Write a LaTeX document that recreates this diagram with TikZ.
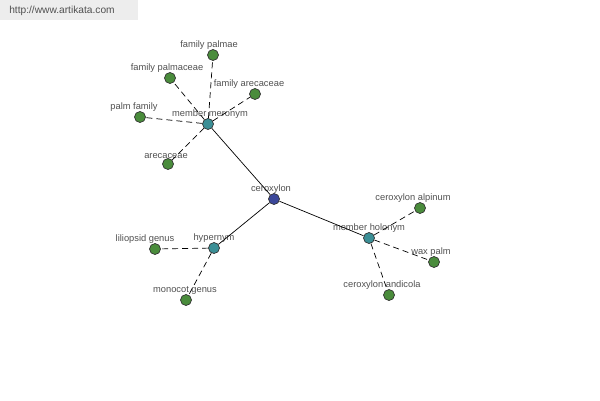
\documentclass[tikz,border=0pt]{standalone}
\usepackage{fontspec}
\setmainfont{Liberation Sans}
\usepackage{tikz}
\usetikzlibrary{positioning}
\definecolor{leafgreen}{HTML}{4A8C3C}
\definecolor{hubteal}{HTML}{3B8F96}
\definecolor{rootblue}{HTML}{3B479A}
\definecolor{txtgray}{HTML}{505050}
\tikzstyle{word} = [circle, draw=black!80, line width=0.4pt, minimum size=2.2mm, inner sep=0pt]
\tikzstyle{leaf} = [word, fill=leafgreen]
\tikzstyle{hub} = [word, fill=hubteal]
\tikzstyle{root} = [word, fill=rootblue]
\tikzstyle{lbl} = [text=txtgray, font=\fontsize{5.3}{6}\selectfont, inner sep=1pt, label distance=-0.5mm]
\tikzstyle{link} = [line width=0.4pt]
\tikzstyle{rel} = [line width=0.4pt, dashed, dash pattern=on 1.2mm off 0.8mm]

\begin{document}
\begin{tikzpicture}[x=0.2mm, y=-0.2mm]
    \useasboundingbox (0,0) rectangle (600,400);
    % watermark
    \fill[black!7] (0,0) rectangle (138,20);
    \node (site) [text=txtgray, font=\fontsize{5.8}{7}\selectfont] at (62,11) {http://www.artikata.com};

    % Nodes
    \node (ceroxylon) [root, label={[lbl, xshift=-0.6mm]above:ceroxylon}] at (274,199) {};
    \node (meronym) [hub, label={[lbl, xshift=0.4mm]above:member meronym}] at (208,124) {};
    \node (hypernym) [hub, label={[lbl]above:hypernym}] at (214,248) {};
    \node (holonym) [hub, label={[lbl]above:member holonym}] at (369,238) {};

    \node (palmae) [leaf, label={[lbl, xshift=-0.8mm]above:family palmae}] at (213,55) {};
    \node (palmaceae) [leaf, label={[lbl, xshift=-0.6mm]above:family palmaceae}] at (170,78) {};
    \node (arecaceaefam) [leaf, label={[lbl, xshift=-1.2mm]above:family arecaceae}] at (255,94) {};
    \node (palmfamily) [leaf, label={[lbl, xshift=-1.2mm]above:palm family}] at (140,117) {};
    \node (arecaceae) [leaf, label={[lbl, xshift=-0.4mm]above:arecaceae}] at (168,164) {};

    \node (liliopsid) [leaf, label={[lbl, xshift=-2mm]above:liliopsid genus}] at (155,249) {};
    \node (monocot) [leaf, label={[lbl, xshift=-0.2mm]above:monocot genus}] at (186,300) {};

    \node (alpinum) [leaf, label={[lbl, xshift=-1.4mm]above:ceroxylon alpinum}] at (420,208) {};
    \node (waxpalm) [leaf, label={[lbl, xshift=-0.6mm]above:wax palm}] at (434,262) {};
    \node (andicola) [leaf, label={[lbl, xshift=-1.4mm]above:ceroxylon andicola}] at (389,295) {};

    % Edges
    \draw [link] (ceroxylon) -- (meronym);
    \draw [link] (ceroxylon) -- (hypernym);
    \draw [link] (ceroxylon) -- (holonym);

    \draw [rel] (meronym) -- (palmae);
    \draw [rel] (meronym) -- (palmaceae);
    \draw [rel] (meronym) -- (arecaceaefam);
    \draw [rel] (meronym) -- (palmfamily);
    \draw [rel] (meronym) -- (arecaceae);

    \draw [rel] (hypernym) -- (liliopsid);
    \draw [rel] (hypernym) -- (monocot);

    \draw [rel] (holonym) -- (alpinum);
    \draw [rel] (holonym) -- (waxpalm);
    \draw [rel] (holonym) -- (andicola);
\end{tikzpicture}
\end{document}
